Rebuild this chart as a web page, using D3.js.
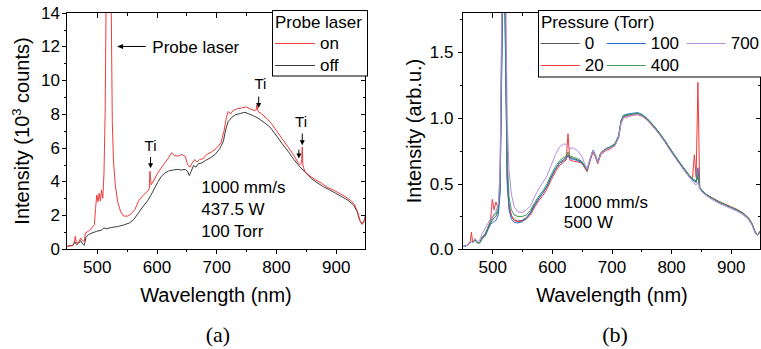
<!DOCTYPE html>
<html><head><meta charset="utf-8">
<script src="https://cdn.jsdelivr.net/npm/d3@7"></script>
<style>
body{margin:0;background:#fff}
svg{display:block}
text{font-family:"Liberation Sans",Arial,sans-serif;fill:#000}
text.serif{font-family:"Liberation Serif","Times New Roman",serif}
</style>
</head><body>
<svg id="c" width="761" height="349"></svg>
<script>
// ---------- Panel (a) data ----------
const wavelengthOff = [450,455,460,463,466,470,473,476,479,482,486,492,500,508,512,516,525,535,545,555,562,570,578,585,590,596,602,608,614,620,628,635,642,648,652,655,658,662,666,670,676,682,690,698,706,712,716,720,726,732,740,748,755,762,770,780,790,800,810,820,830,840,850,860,870,880,890,900,910,920,930,936,940,944,948,950];
const intensityOff = [0.15,0.2,0.2,0.45,0.25,0.35,0.5,0.3,0.22,0.7,0.85,0.95,1.05,1.12,1.25,1.2,1.28,1.33,1.42,1.55,1.75,2.15,2.55,2.85,3.15,3.55,3.95,4.3,4.5,4.62,4.68,4.72,4.68,4.72,4.6,4.35,4.6,4.95,4.85,5.05,5.1,5.25,5.4,5.6,5.95,6.4,7.1,7.55,7.8,7.95,8.03,8.1,8.0,7.9,7.75,7.5,7.22,6.75,6.25,5.8,5.3,4.87,4.5,4.15,3.9,3.68,3.5,3.3,3.1,2.9,2.6,2.2,1.7,1.5,1.7,2.0];

const wavelengthOn = [450,458,462,464,466,470,473,476,479,481,486,492,496,498,500,502,504,506,508,510,512,514,516,520,524,526,528,531,535,540,545,552,558,564,570,578,586,588,589,591,596,602,608,614,620,625,630,636,642,648,652,656,660,664,668,672,678,684,692,700,708,713,717,720,724,728,734,742,750,757,764,767,768,770,776,784,792,800,810,820,830,837,840,842,843,844,845,848,856,866,876,886,896,906,916,926,932,937,941,944,947,950];
const intensityOn = [0.15,0.2,0.3,0.75,0.35,0.4,0.65,0.5,0.45,0.95,1.05,1.25,1.45,2.4,3.2,2.8,3.3,2.85,3.5,3.0,4.4,8.0,16,20,15,7.5,5.2,3.8,2.8,2.2,1.95,1.95,2.1,2.35,2.85,3.2,3.45,3.6,4.6,3.8,4.1,4.5,4.8,5.1,5.4,5.7,5.55,5.5,5.6,5.5,5.0,4.85,5.1,5.3,5.15,5.3,5.35,5.6,5.75,5.95,6.3,7.0,7.8,8.15,8.0,8.2,8.3,8.35,8.42,8.3,8.2,8.25,8.55,8.15,8.0,7.75,7.45,7.05,6.55,6.05,5.55,5.1,5.0,5.05,5.3,6.05,5.0,4.6,4.35,4.1,3.9,3.65,3.5,3.3,3.1,2.85,2.6,2.15,1.65,1.45,1.6,2.0];

// ---------- Panel (b) data ----------
const wavelengthB = [450,458,463,465,467,471,475,479,483,488,493,497,500,503,506,510,513,516,519,522,525,528,532,537,543,550,557,564,571,578,585,592,599,606,613,619,624,627,630,636,643,650,655,659,664,669,673,677,682,690,698,706,712,716,720,728,736,744,752,760,770,780,790,800,810,820,830,836,839,842,845,848,852,860,870,880,890,900,910,920,930,936,941,945,950];
const pressure0 = [0.02,0.03,0.05,0.06,0.05,0.07,0.05,0.05,0.09,0.11,0.16,0.20,0.22,0.24,0.25,0.29,0.45,1.5,2.6,1.6,0.55,0.33,0.25,0.22,0.215,0.22,0.24,0.28,0.34,0.39,0.43,0.48,0.55,0.61,0.66,0.68,0.70,0.72,0.70,0.69,0.68,0.665,0.63,0.60,0.68,0.75,0.71,0.66,0.73,0.76,0.775,0.80,0.86,0.97,1.01,1.02,1.03,1.035,1.02,0.99,0.94,0.88,0.82,0.75,0.68,0.62,0.56,0.53,0.52,0.51,0.55,0.47,0.44,0.41,0.385,0.36,0.34,0.32,0.30,0.275,0.235,0.19,0.13,0.11,0.14];
const pressure20 = [0.02,0.03,0.06,0.13,0.05,0.08,0.05,0.05,0.09,0.11,0.17,0.22,0.38,0.30,0.36,0.31,0.5,1.6,2.7,1.7,0.55,0.33,0.26,0.22,0.21,0.215,0.23,0.26,0.32,0.37,0.41,0.46,0.53,0.59,0.64,0.66,0.68,0.88,0.68,0.67,0.665,0.655,0.62,0.59,0.67,0.74,0.70,0.65,0.72,0.75,0.765,0.79,0.85,0.96,1.0,1.01,1.02,1.025,1.01,0.985,0.935,0.88,0.82,0.75,0.685,0.625,0.565,0.54,0.72,0.55,1.27,0.47,0.445,0.415,0.39,0.365,0.345,0.325,0.305,0.28,0.24,0.195,0.135,0.11,0.14];
const pressure100 = [0.02,0.03,0.05,0.06,0.05,0.07,0.05,0.05,0.08,0.10,0.15,0.19,0.20,0.21,0.22,0.26,0.42,1.4,2.6,1.5,0.5,0.30,0.23,0.205,0.20,0.21,0.235,0.275,0.335,0.385,0.43,0.48,0.55,0.61,0.655,0.67,0.69,0.71,0.69,0.685,0.675,0.66,0.63,0.60,0.68,0.755,0.715,0.665,0.735,0.765,0.78,0.805,0.865,0.98,1.02,1.03,1.035,1.04,1.025,0.995,0.945,0.89,0.825,0.755,0.69,0.625,0.565,0.535,0.52,0.51,0.62,0.47,0.445,0.415,0.385,0.36,0.34,0.32,0.30,0.275,0.235,0.19,0.13,0.11,0.14];
const pressure400 = [0.02,0.03,0.05,0.06,0.05,0.07,0.05,0.05,0.09,0.12,0.17,0.21,0.24,0.26,0.27,0.31,0.5,1.7,2.7,1.8,0.7,0.40,0.30,0.26,0.25,0.25,0.26,0.295,0.355,0.405,0.445,0.50,0.57,0.63,0.675,0.695,0.71,0.74,0.71,0.70,0.69,0.67,0.635,0.605,0.685,0.755,0.715,0.665,0.735,0.765,0.78,0.80,0.86,0.975,1.015,1.025,1.03,1.035,1.02,0.99,0.945,0.885,0.825,0.755,0.69,0.625,0.565,0.535,0.53,0.52,0.57,0.475,0.445,0.415,0.385,0.36,0.34,0.32,0.30,0.275,0.235,0.19,0.13,0.11,0.14];
const pressure700 = [0.02,0.03,0.05,0.06,0.05,0.08,0.06,0.07,0.12,0.16,0.20,0.23,0.25,0.27,0.29,0.34,0.6,1.9,2.8,2.2,1.0,0.6,0.42,0.32,0.285,0.28,0.30,0.33,0.40,0.46,0.51,0.56,0.64,0.72,0.78,0.80,0.80,0.78,0.77,0.77,0.75,0.71,0.65,0.61,0.685,0.755,0.71,0.66,0.73,0.76,0.77,0.79,0.85,0.96,1.0,1.01,1.02,1.025,1.01,0.98,0.93,0.875,0.81,0.74,0.675,0.61,0.55,0.52,0.50,0.49,0.51,0.46,0.435,0.405,0.375,0.35,0.33,0.31,0.29,0.265,0.225,0.18,0.12,0.105,0.13];

const pressureLabels = ["0","20","100","400","700"];
const pressureColors = ["#555555","#f03a3a","#2a6fd6","#3a9a58","#b48ce0"];

// ---------- ticks ----------
const xTicks = [500,600,700,800,900];
const xMinor = [550,650,750,850];
const yTicksA = [0,2,4,6,8,10,12,14];
const yMinorA = [1,3,5,7,9,11,13];
const yTicksB = [0,0.5,1.0,1.5];
const yMinorB = [0.25,0.75,1.25,1.75];

const SANS = "'Liberation Sans', Arial, sans-serif";
const svg = d3.select("#c");

function panel(id, left, top, width, height, xDom, yDom, yTicks, yMinor, yFmt, labelPad){
  const g = svg.append("g").attr("transform",`translate(${left},${top})`);
  const x = d3.scaleLinear().domain(xDom).range([0,width]);
  const y = d3.scaleLinear().domain(yDom).range([height,0]);
  g.append("clipPath").attr("id",id).append("rect").attr("width",width).attr("height",height);
  const data = g.append("g").attr("clip-path",`url(#${id})`);
  const ax = g.append("g").attr("class","axes");
  ax.append("g").attr("transform",`translate(0,${height})`)
    .call(d3.axisBottom(x).tickValues(xTicks).tickSize(5).tickPadding(7).tickSizeOuter(0));
  ax.append("g").attr("transform",`translate(0,${height})`)
    .call(d3.axisBottom(x).tickValues(xMinor).tickSize(3).tickFormat("").tickSizeOuter(0));
  ax.append("g").call(d3.axisTop(x).tickValues(xTicks).tickSize(-5).tickFormat("").tickSizeOuter(0));
  ax.append("g").call(d3.axisTop(x).tickValues(xMinor).tickSize(-3).tickFormat("").tickSizeOuter(0));
  ax.append("g").call(d3.axisLeft(y).tickValues(yTicks).tickSize(5).tickPadding(labelPad).tickFormat(yFmt).tickSizeOuter(0));
  ax.append("g").call(d3.axisLeft(y).tickValues(yMinor).tickSize(3).tickFormat("").tickSizeOuter(0));
  ax.append("g").attr("transform",`translate(${width},0)`)
    .call(d3.axisRight(y).tickValues(yTicks).tickSize(-5).tickFormat("").tickSizeOuter(0));
  ax.append("g").attr("transform",`translate(${width},0)`)
    .call(d3.axisRight(y).tickValues(yMinor).tickSize(-3).tickFormat("").tickSizeOuter(0));
  ax.selectAll(".domain").remove();
  ax.selectAll("g").attr("font-family",SANS);
  ax.selectAll("line").attr("stroke","#000").attr("shape-rendering","crispEdges");
  ax.selectAll("text").attr("font-size",17).style("font-family",SANS).attr("fill","#000");
  g.append("rect").attr("width",width).attr("height",height)
    .attr("fill","none").attr("stroke","#000").attr("stroke-width",1).attr("shape-rendering","crispEdges");
  return {g,x,y,data};
}

function arrowDown(g, x0, y0, y1){
  g.append("line").attr("x1",x0).attr("x2",x0).attr("y1",y0).attr("y2",y1-4).attr("stroke","#000").attr("stroke-width",1);
  g.append("path").attr("d",`M${x0-2.5},${y1-5}L${x0+2.5},${y1-5}L${x0},${y1}Z`).attr("fill","#000");
}

// ---------- Panel (a) ----------
const A = panel("clipA", 66.9, 12.7, 298.7, 236.3, [450,950], [0,14], yTicksA, yMinorA, d3.format("d"), 2);
const lineA = (wl) => d3.line().x((d,i)=>A.x(wl[i])).y(d=>A.y(d));
A.data.append("path").datum(intensityOff).attr("d",lineA(wavelengthOff))
  .attr("fill","none").attr("stroke","#3c3c3c").attr("stroke-width",1);
A.data.append("path").datum(intensityOn).attr("d",lineA(wavelengthOn))
  .attr("fill","none").attr("stroke","#ef3b3b").attr("stroke-width",1);

A.g.append("text").attr("x",A.x(593)).attr("y",A.y(11.62)).attr("font-size",17).text("Probe laser");
A.g.append("line").attr("x1",A.x(582)).attr("x2",A.x(540)).attr("y1",A.y(12)).attr("y2",A.y(12)).attr("stroke","#000");
A.g.append("path").attr("d",`M${A.x(534)},${A.y(12)}L${A.x(534)+6},${A.y(12)-2.5}L${A.x(534)+6},${A.y(12)+2.5}Z`).attr("fill","#000");

const tiA = [[590,5.8],[774,9.45],[842,7.25]];
tiA.forEach(t=>{
  A.g.append("text").attr("x",A.x(t[0])).attr("y",A.y(t[1])).attr("text-anchor","middle").attr("font-size",15).text("Ti");
});
arrowDown(A.g, A.x(590), A.y(5.45), A.y(4.78));
arrowDown(A.g, A.x(771), A.y(9.03), A.y(8.35));
arrowDown(A.g, A.x(844), A.y(6.84), A.y(6.15));
arrowDown(A.g, A.x(838.3), A.y(5.88), A.y(5.36));

const condA = ["1000 mm/s","437.5 W","100 Torr"];
condA.forEach((s,i)=>{
  A.g.append("text").attr("x",A.x(675)).attr("y",A.y(3.3)+i*21.7).attr("font-size",17).text(s);
});

const legA = svg.append("g");
legA.append("rect").attr("x",272.5).attr("y",10.5).attr("width",95).attr("height",65.5)
  .attr("fill","#fff").attr("stroke","#000").attr("stroke-width",1);
legA.append("text").attr("x",275).attr("y",28).attr("font-size",17).text("Probe laser");
[["on","#ef3b3b",43.5,48.5],["off","#3c3c3c",65.5,70.5]].forEach(r=>{
  legA.append("line").attr("x1",275).attr("x2",315).attr("y1",r[2]).attr("y2",r[2]).attr("stroke",r[1]).attr("stroke-width",1);
  legA.append("text").attr("x",320).attr("y",r[3]).attr("font-size",17).text(r[0]);
});
svg.append("text").attr("x",29).attr("y",131).attr("transform","rotate(-90,29,131)")
  .attr("text-anchor","middle").attr("font-size",20)
  .call(t=>{t.append("tspan").text("Intensity (10");
            t.append("tspan").attr("font-size",13).attr("dy",-8).text("3");
            t.append("tspan").attr("dy",8).text(" counts)");});
svg.append("text").attr("x",216).attr("y",302).attr("text-anchor","middle").attr("font-size",20).text("Wavelength (nm)");
svg.append("text").attr("class","serif").attr("x",218).attr("y",342).attr("text-anchor","middle").attr("font-size",22).text("(a)");

// ---------- Panel (b) ----------
const B = panel("clipB", 462.5, 12.7, 298, 236.6, [450,950], [0,1.8], yTicksB, yMinorB, d3.format(".1f"), 4);
const lineB = d3.line().x((d,i)=>B.x(wavelengthB[i])).y(d=>B.y(d));
[pressure0,pressure20,pressure100,pressure400,pressure700].forEach((s,k)=>{
  B.data.append("path").datum(s).attr("d",lineB).attr("fill","none")
    .attr("stroke",pressureColors[k]).attr("stroke-width",1);
});
const condB = ["1000 mm/s","500 W"];
condB.forEach((s,i)=>{
  B.g.append("text").attr("x",B.x(620)).attr("y",B.y(0.315)+i*20.5).attr("font-size",17).text(s);
});
const legB = svg.append("g");
legB.append("rect").attr("x",538.5).attr("y",10.5).attr("width",240).attr("height",66.5)
  .attr("fill","#fff").attr("stroke","#000").attr("stroke-width",1);
legB.append("text").attr("x",541).attr("y",28).attr("font-size",17).text("Pressure (Torr)");
const legPos = [[540.7,43.5],[540.7,65.5],[606.7,43.5],[606.7,65.5],[686.7,43.5]];
pressureLabels.forEach((lab,k)=>{
  const [lx,ly] = legPos[k];
  legB.append("line").attr("x1",lx).attr("x2",lx+39).attr("y1",ly).attr("y2",ly).attr("stroke",pressureColors[k]).attr("stroke-width",1);
  legB.append("text").attr("x",lx+44).attr("y",ly+5.5).attr("font-size",17).text(lab);
});
svg.append("text").attr("x",421).attr("y",131).attr("transform","rotate(-90,421,131)")
  .attr("text-anchor","middle").attr("font-size",20).text("Intensity (arb.u.)");
svg.append("text").attr("x",612).attr("y",302).attr("text-anchor","middle").attr("font-size",20).text("Wavelength (nm)");
svg.append("text").attr("class","serif").attr("x",615).attr("y",342).attr("text-anchor","middle").attr("font-size",22).text("(b)");
</script>
</body></html>
